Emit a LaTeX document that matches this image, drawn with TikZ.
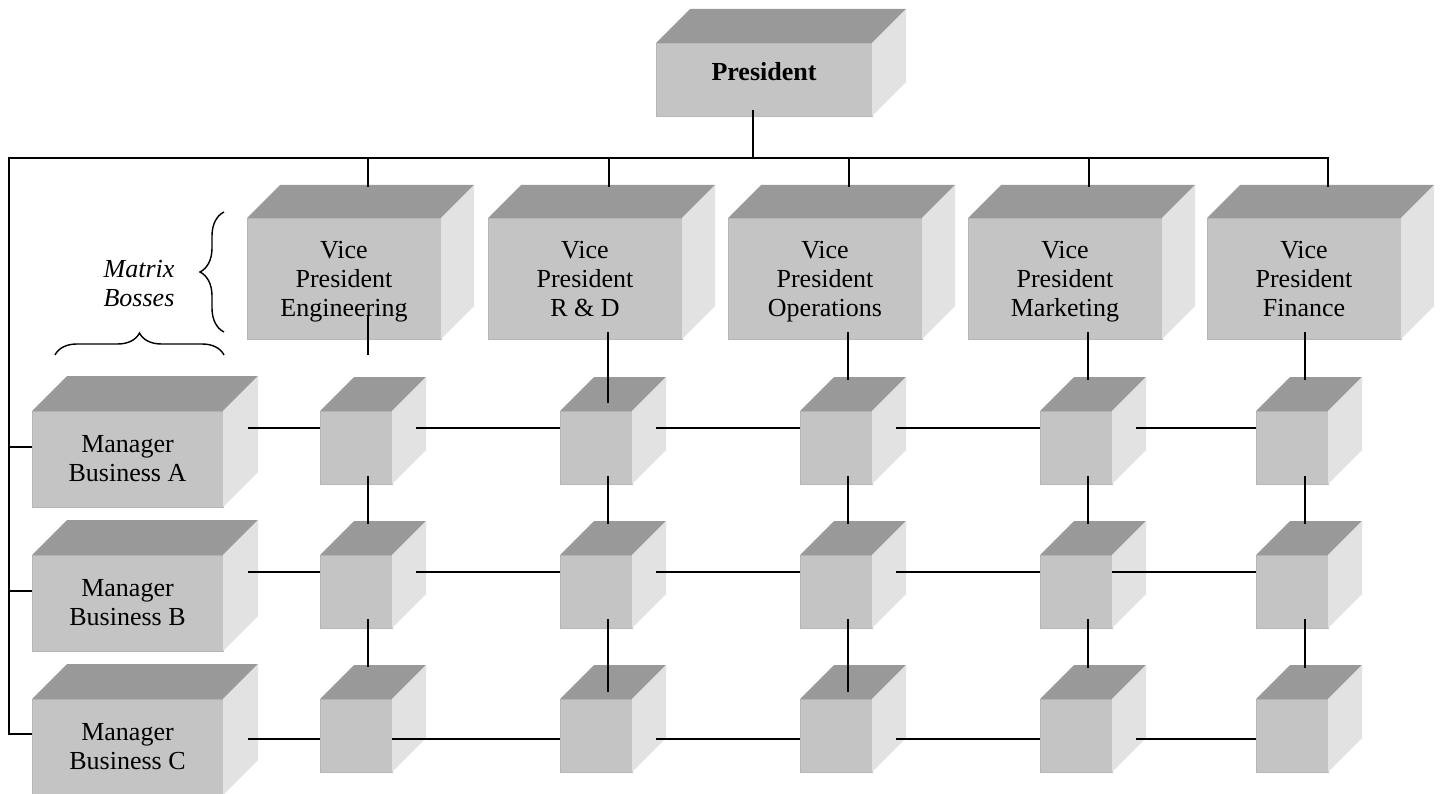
\documentclass[tikz,border=0pt]{standalone}
\usepackage{fontspec}
\setmainfont{Liberation Serif}
\usetikzlibrary{decorations.pathreplacing,calc}
\definecolor{frontc}{HTML}{C4C4C4}
\definecolor{topc}{HTML}{999999}
\definecolor{sidec}{HTML}{E2E2E2}
\definecolor{edgec}{HTML}{B6B6B6}
\tikzset{
  face/.style={fill=frontc, draw=edgec, line width=0.9pt, inner sep=0pt, outer sep=0pt,
    align=center, anchor=north west, font=\fontsize{26pt}{29pt}\selectfont},
  conn/.style={line width=2pt, draw=black},
  bracestyle/.style={decorate, decoration={brace, amplitude=#1}, line width=1.4pt, draw=black},
  bosslabel/.style={font=\itshape\fontsize{26pt}{29pt}\selectfont, align=center, inner sep=0pt}
}
\newcommand{\blok}[7]{%
  \node[face, minimum width=#4pt, minimum height=#5pt] (#1) at (#2,#3) {#7};
  \fill[topc] (#1.north west) -- ([xshift=#6pt,yshift=#6pt]#1.north west)
     -- ([xshift=#6pt,yshift=#6pt]#1.north east) -- (#1.north east) -- cycle;
  \fill[sidec] (#1.north east) -- ([xshift=#6pt,yshift=#6pt]#1.north east)
     -- ([xshift=#6pt,yshift=#6pt]#1.south east) -- (#1.south east) -- cycle;
}
\newcommand{\vptext}[1]{\rule{0pt}{23pt}Vice\\President\\#1\vphantom{g}}
\begin{document}
\begin{tikzpicture}[x=1pt,y=-1pt]
\fill[white] (0,0) rectangle (1440,794);
\useasboundingbox (0,0) rectangle (1440,794);

% President
\blok{pres}{656}{43}{216}{73}{34}{\raisebox{-1pt}[0pt][0pt]{\textbf{President}}}
% Vice presidents
\blok{vp1}{247}{218}{194}{121}{33}{\vptext{Engineering}}
\blok{vp2}{488}{218}{194}{121}{33}{\vptext{R \& D}}
\blok{vp3}{728}{218}{194}{121}{33}{\vptext{Operations}}
\blok{vp4}{968}{218}{194}{121}{33}{\vptext{Marketing}}
\blok{vp5}{1207}{218}{194}{121}{33}{\vptext{Finance}}
% Managers
\blok{m1}{32}{411}{191}{96}{35}{Manager\\Business A}
\blok{m2}{32}{555}{191}{96}{35}{Manager\\Business B}
\blok{m3}{32}{699}{191}{96}{35}{Manager\\Business C}
% Matrix cubes
\foreach \r/\ty in {1/411,2/555,3/699}{
  \foreach \c/\lx in {1/320,2/560,3/800,4/1040,5/1256}{
    \blok{c\r\c}{\lx}{\ty}{72}{73}{34}{}
  }
}

% Braces and label
\draw[bracestyle=24pt] (224,332) -- (224,212);
\draw[bracestyle=22pt] (55,355) -- (224,355);
\node[bosslabel] (mb) at (139,284) {Matrix\\Bosses};

% Main bus
\coordinate (bus) at (9,158);
\coordinate (busend) at (1329,158);
\coordinate (p0) at ([xshift=97pt,yshift=6pt]pres.south west);
\draw[conn] (p0) -- (p0 |- bus);
\draw[conn] (busend) -- (bus) |- ([yshift=13pt]m3.west);
\draw[conn] ([yshift=12pt]m1.west) -- ++(-23,0);
\draw[conn] ([yshift=12pt]m2.west) -- ++(-23,0);

% Lines from bus to VPs
\foreach \k in {1,...,5}{
  \coordinate (t\k) at ([xshift=121pt,yshift=31pt]vp\k.north west);
  \draw[conn] (t\k) -- (t\k |- bus);
}

% VP to first row of cubes
\draw[conn] ([xshift=121pt,yshift=24pt]vp1.south west) -- ([xshift=48pt,yshift=56pt]c11.north west);
\draw[conn] ([xshift=120pt,yshift=7pt]vp2.south west) -- ([xshift=48pt,yshift=8pt]c12.north west);
\draw[conn] ([xshift=120pt,yshift=7pt]vp3.south west) -- ([xshift=48pt,yshift=31pt]c13.north west);
\draw[conn] ([xshift=120pt,yshift=7pt]vp4.south west) -- ([xshift=48pt,yshift=31pt]c14.north west);
\draw[conn] ([xshift=98pt,yshift=7pt]vp5.south west) -- ([xshift=49pt,yshift=31pt]c15.north west);

% Vertical links between cube rows
\foreach \c/\xs in {1/48pt,2/48pt,3/48pt,4/48pt,5/49pt}{
  \draw[conn] ([xshift=\xs,yshift=8pt]c1\c.south west) -- ([xshift=\xs,yshift=31pt]c2\c.north west);
}
\foreach \c/\xs/\e in {1/48pt/32pt,2/48pt/7pt,3/48pt/7pt,4/48pt/31pt,5/49pt/31pt}{
  \draw[conn] ([xshift=\xs,yshift=9pt]c2\c.south west) -- ([xshift=\xs,yshift=\e]c3\c.north west);
}

% Horizontal links along rows
\foreach \a/\b/\s/\dy in {
  m1/c11/25pt/17pt, c11/c12/24pt/17pt, c12/c13/24pt/17pt, c13/c14/24pt/17pt, c14/c15/24pt/17pt,
  m2/c21/25pt/17pt, c21/c22/24pt/17pt, c22/c23/24pt/17pt, c23/c24/24pt/17pt, c24/c25/0pt/17pt,
  m3/c31/25pt/40pt, c31/c32/0pt/40pt, c32/c33/24pt/40pt, c33/c34/24pt/40pt, c34/c35/24pt/40pt}{
  \draw[conn] ([xshift=\s,yshift=-\dy]\a.north east) -- ([yshift=-\dy]\b.north west);
}
\end{tikzpicture}
\end{document}
